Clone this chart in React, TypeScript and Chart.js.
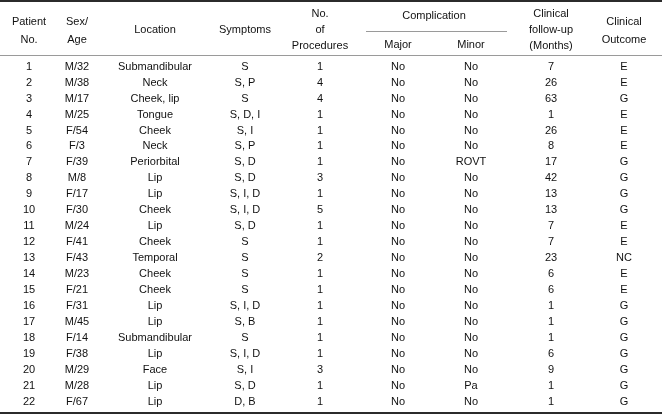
import React, { useEffect, useRef } from "react";
import { Chart, registerables } from "chart.js";

Chart.register(...registerables);

// ---- data ----
const patientNo = ["1","2","3","4","5","6","7","8","9","10","11","12","13","14","15","16","17","18","19","20","21","22"];
const sexAge = ["M/32","M/38","M/17","M/25","F/54","F/3","F/39","M/8","F/17","F/30","M/24","F/41","F/43","M/23","F/21","F/31","M/45","F/14","F/38","M/29","M/28","F/67"];
const location = ["Submandibular","Neck","Cheek, lip","Tongue","Cheek","Neck","Periorbital","Lip","Lip","Cheek","Lip","Cheek","Temporal","Cheek","Cheek","Lip","Lip","Submandibular","Lip","Face","Lip","Lip"];
const symptoms = ["S","S, P","S","S, D, I","S, I","S, P","S, D","S, D","S, I, D","S, I, D","S, D","S","S","S","S","S, I, D","S, B","S","S, I, D","S, I","S, D","D, B"];
const procedures = [1,4,4,1,1,1,1,3,1,5,1,1,2,1,1,1,1,1,1,3,1,1];
const majorComp = ["No","No","No","No","No","No","No","No","No","No","No","No","No","No","No","No","No","No","No","No","No","No"];
const minorComp = ["No","No","No","No","No","No","ROVT","No","No","No","No","No","No","No","No","No","No","No","No","No","Pa","No"];
const followUp = [7,26,63,1,26,8,17,42,13,13,7,7,23,6,6,1,1,1,6,9,1,1];
const outcome = ["E","E","G","E","E","E","G","G","G","G","E","E","NC","E","E","G","G","G","G","G","G","G"];

const columnValues: (string | number)[][] = [patientNo, sexAge, location, symptoms, procedures, majorComp, minorComp, followUp, outcome];
const headerLabels: string[][] = [
  ["Patient", "No."],
  ["Sex/", "Age"],
  ["Location"],
  ["Symptoms"],
  ["No.", "of", "Procedures"],
  ["Major"],
  ["Minor"],
  ["Clinical", "follow-up", "(Months)"],
  ["Clinical", "Outcome"],
];
const groupLabel = "Complication";

// ---- layout (x scale units) ----
const colCenters = [29, 77, 155, 245, 320, 398, 471, 551, 624];
const W = 662;
const H = 415;

const tablePlugin = {
  id: "tablePlugin",
  afterDraw(chart: any) {
    const ctx = chart.ctx as CanvasRenderingContext2D;
    const xs = chart.scales.x;
    const ys = chart.scales.y;
    const font = '11px "Liberation Sans", Arial, Helvetica, sans-serif';
    ctx.save();
    // rules
    ctx.fillStyle = "#2b2b2b";
    ctx.fillRect(0, 0, W, 2);
    ctx.fillRect(0, 412, W, 2);
    ctx.fillStyle = "#9a9a9a";
    ctx.fillRect(0, 55, W, 1);
    ctx.fillRect(xs.getPixelForValue(366), 31, xs.getPixelForValue(507) - xs.getPixelForValue(366), 1);

    ctx.font = font;
    ctx.fillStyle = "#111";
    ctx.textAlign = "center";
    ctx.textBaseline = "middle";

    // header
    headerLabels.forEach((lines, c) => {
      const x = xs.getPixelForValue(colCenters[c]);
      let ysPos: number[];
      if (c === 5 || c === 6) ysPos = [45];
      else if (lines.length === 3) ysPos = [14, 30, 46];
      else if (lines.length === 2) ysPos = [22, 40];
      else ysPos = [30];
      lines.forEach((t, i) => ctx.fillText(t, x, ysPos[i]));
    });
    ctx.fillText(groupLabel, xs.getPixelForValue(434), 16);

    // body
    columnValues.forEach((vals, c) => {
      const x = xs.getPixelForValue(colCenters[c]);
      vals.forEach((v, r) => {
        const y = ys.getPixelForValue(r);
        ctx.fillText(String(v), x, y);
      });
    });
    ctx.restore();
  },
};

export default function App() {
  const ref = useRef<HTMLCanvasElement | null>(null);
  useEffect(() => {
    if (!ref.current) return;
    const chart = new Chart(ref.current, {
      type: "scatter",
      data: {
        labels: patientNo,
        datasets: [
          {
            data: patientNo.map((p) => ({ x: colCenters[0], y: p })) as any,
            pointRadius: 0,
            showLine: false,
          },
        ],
      },
      options: {
        responsive: false,
        animation: false,
        layout: { padding: { top: 58.7, bottom: 5.3, left: 0, right: 0 } },
        plugins: { legend: { display: false }, tooltip: { enabled: false } },
        scales: {
          x: { type: "linear", min: 0, max: W, display: false },
          y: { type: "category", labels: patientNo, offset: true, display: false },
        },
      },
      plugins: [tablePlugin],
    });
    return () => chart.destroy();
  }, []);
  return (
    <div style={{ position: "absolute", left: 0, top: 0, width: W, height: H, background: "#fff" }}>
      <canvas ref={ref} width={W} height={H} style={{ width: W, height: H, display: "block" }} />
    </div>
  );
}
